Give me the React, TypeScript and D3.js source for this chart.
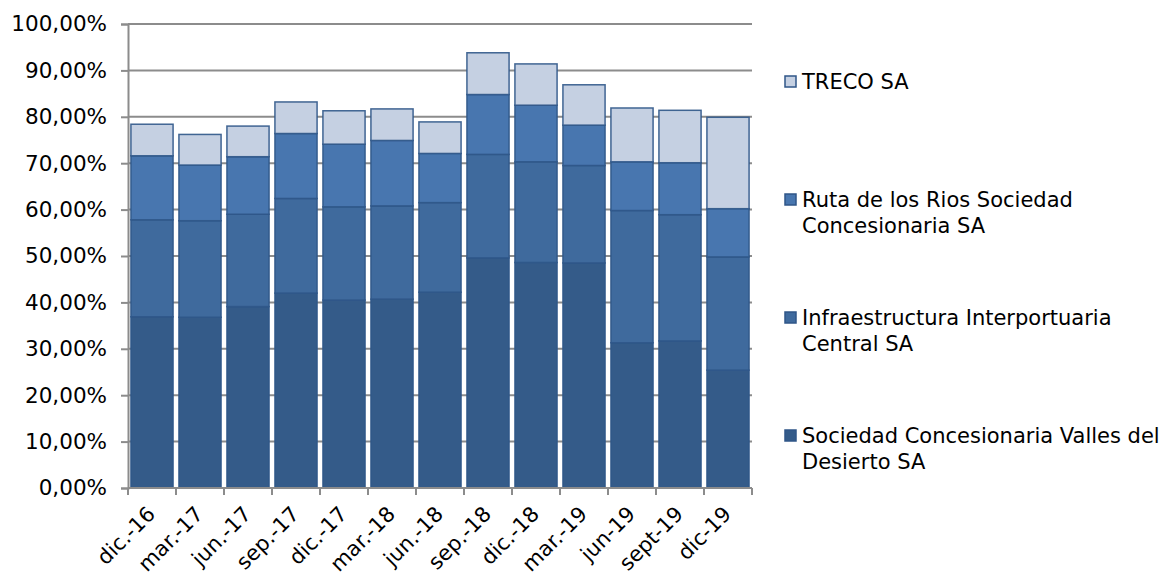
import React, { useRef, useEffect } from "react";
import * as d3 from "d3";

const categories = [
  "dic.-16", "mar.-17", "jun.-17", "sep.-17", "dic.-17", "mar.-18", "jun.-18",
  "sep.-18", "dic.-18", "mar.-19", "jun-19", "sept-19", "dic-19",
];

// valores en % de cada tramo (no acumulados)
const valles = [36.9, 36.8, 39.1, 42.0, 40.5, 40.7, 42.2, 49.6, 48.6, 48.5, 31.3, 31.7, 25.4];
const infraestructura = [20.9, 20.8, 19.9, 20.4, 20.1, 20.1, 19.3, 22.3, 21.7, 21.0, 28.5, 27.2, 24.4];
const ruta = [13.8, 12.0, 12.4, 14.0, 13.5, 14.1, 10.6, 12.9, 12.2, 8.7, 10.5, 11.2, 10.4];
const treco = [6.8, 6.6, 6.6, 6.8, 7.2, 6.8, 6.8, 9.0, 8.9, 8.7, 11.6, 11.3, 19.7];

const yTicks = [0, 10, 20, 30, 40, 50, 60, 70, 80, 90, 100];

const seriesKeys = ["valles", "infra", "ruta", "treco"];
const seriesColors = ["#345b89", "#3f6a9d", "#4876af", "#c5d0e2"];
const legendItems = [
  { key: "treco", lines: ["TRECO SA"] },
  { key: "ruta", lines: ["Ruta de los Rios Sociedad", "Concesionaria SA"] },
  { key: "infra", lines: ["Infraestructura Interportuaria", "Central SA"] },
  { key: "valles", lines: ["Sociedad Concesionaria Valles del", "Desierto SA"] },
];

const W = 1166;
const H = 575;
const FONT = "Verdana, 'DejaVu Sans', sans-serif";

const App: React.FC = () => {
  const ref = useRef<SVGSVGElement | null>(null);

  useEffect(() => {
    if (!ref.current) return;
    const svg = d3.select(ref.current);
    svg.selectAll("*").remove();

    const margin = { top: 24, left: 128, right: 414, bottom: 87 };

    const rows = categories.map((c, i) => ({
      cat: c,
      valles: valles[i],
      infra: infraestructura[i],
      ruta: ruta[i],
      treco: treco[i],
    }));

    const x = d3
      .scaleBand()
      .domain(categories)
      .range([margin.left, W - margin.right])
      .paddingInner(0.08)
      .paddingOuter(0.04);

    const y = d3
      .scaleLinear()
      .domain([0, 100])
      .range([H - margin.bottom, margin.top]);

    const color = d3.scaleOrdinal<string, string>().domain(seriesKeys).range(seriesColors);

    // líneas de división
    svg
      .append("g")
      .selectAll("line")
      .data(yTicks.filter(t => t > 0))
      .enter()
      .append("line")
      .attr("x1", margin.left)
      .attr("x2", W - margin.right)
      .attr("y1", d => y(d))
      .attr("y2", d => y(d))
      .attr("stroke", "#8c8c8c")
      .attr("stroke-width", 2);

    const stacked = d3.stack<any>().keys(seriesKeys)(rows);

    svg
      .append("g")
      .selectAll("g")
      .data(stacked)
      .enter()
      .append("g")
      .attr("fill", d => color(d.key))
      .selectAll("rect")
      .data(d => d)
      .enter()
      .append("rect")
      .attr("x", d => x(d.data.cat)! + 1)
      .attr("y", d => y(d[1]))
      .attr("width", x.bandwidth() - 2)
      .attr("height", d => y(d[0]) - y(d[1]))
      .attr("stroke", "#2f5688")
      .attr("stroke-width", 1.5)
      .attr("stroke-opacity", 0.9);

    // eje Y
    const yAxis = svg
      .append("g")
      .attr("transform", `translate(${margin.left},0)`)
      .call(
        d3
          .axisLeft(y)
          .tickValues(yTicks)
          .tickSize(7)
          .tickFormat(d => `${(d as number).toFixed(2).replace(".", ",")}%`)
      );
    yAxis.select(".domain").attr("stroke", "#8c8c8c").attr("stroke-width", 2);
    yAxis.selectAll(".tick line").attr("stroke", "#8c8c8c").attr("stroke-width", 2);
    yAxis
      .selectAll(".tick text")
      .attr("x", -21)
      .attr("font-family", FONT)
      .attr("font-size", 21.5)
      .attr("fill", "#000");

    // eje X
    const xAxis = svg
      .append("g")
      .attr("transform", `translate(0,${H - margin.bottom})`);
    xAxis
      .append("line")
      .attr("x1", margin.left)
      .attr("x2", W - margin.right)
      .attr("stroke", "#8c8c8c")
      .attr("stroke-width", 2);
    const edges = d3
      .range(categories.length + 1)
      .map(i => margin.left + i * ((W - margin.right - margin.left) / categories.length));
    xAxis
      .selectAll("line.tk")
      .data(edges)
      .enter()
      .append("line")
      .attr("class", "tk")
      .attr("x1", d => d)
      .attr("x2", d => d)
      .attr("y1", 0)
      .attr("y2", 7)
      .attr("stroke", "#8c8c8c")
      .attr("stroke-width", 2);
    xAxis
      .selectAll("text")
      .data(categories)
      .enter()
      .append("text")
      .attr("transform", d => `translate(${x(d)! + x.bandwidth() / 2 - 6},${17}) rotate(-45)`)
      .attr("text-anchor", "end")
      .attr("dy", "0.7em")
      .attr("font-family", FONT)
      .attr("font-size", 21)
      .attr("fill", "#000")
      .text(d => d);

    // leyenda
    const legendY = [82, 200, 318, 436];
    const legend = svg.append("g");
    legendItems.forEach((item, i) => {
      const g = legend.append("g").attr("transform", `translate(785,${legendY[i]})`);
      g.append("rect")
        .attr("x", 0)
        .attr("y", -6)
        .attr("width", 11)
        .attr("height", 11)
        .attr("fill", color(item.key))
        .attr("stroke", "#2f5688")
        .attr("stroke-width", 1.5);
      item.lines.forEach((ln, j) => {
        g.append("text")
          .attr("x", 17)
          .attr("y", j * 26)
          .attr("dy", "0.35em")
          .attr("font-family", FONT)
          .attr("font-size", 21)
          .attr("fill", "#000")
          .text(ln);
      });
    });
  }, []);

  return (
    <svg
      ref={ref}
      width={W}
      height={H}
      style={{ position: "absolute", left: 0, top: 0, background: "#fff" }}
    />
  );
};

export default App;
